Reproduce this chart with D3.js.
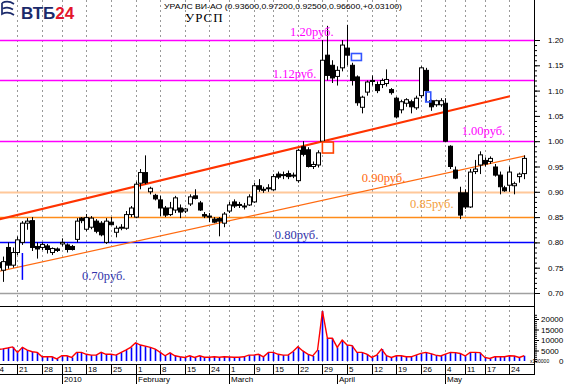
<!DOCTYPE html>
<html>
<head>
<meta charset="utf-8">
<script src="https://cdn.jsdelivr.net/npm/d3@7"></script>
<style>
  body { margin: 0; background: #fff; }
  svg { display: block; font-family: "Liberation Sans", Arial, sans-serif; }
</style>
</head>
<body>
<div id="container"></div>
<script>
// trading days are indexed from Dec 14 2009 (index 0)
const firstIdx = 1;
const opens  = [.760,.745,.790,.755,.780,.800,.838,.843,.792,.790,.793,.780,.787,.797,.795,.792,.806,.848,.826,.830,.842,.838,.800,.840,.820,.830,.828,.855,.850,.917,.938,.900,.893,.884,.868,.855,.864,.868,.862,.876,.892,.878,.855,.852,.846,.847,.838,.862,.880,.875,.870,.874,.880,.912,.905,.906,.904,.935,.932,.936,.932,.922,.989,.983,.950,.953,1.000,1.170,1.150,1.128,1.145,1.184,1.150,1.127,1.067,1.097,1.118,1.112,1.112,1.114,1.102,1.085,1.062,1.075,1.078,1.066,1.090,1.140,1.080,1.072,1.072,1.075,.990,.943,.898,.898,.870,.940,.953,.962,.960,.949,.933,.908,.913,.912,.930,.936];
const highs  = [.780,.772,.800,.790,.812,.842,.848,.850,.800,.800,.797,.790,.790,.808,.798,.795,.848,.850,.856,.852,.846,.842,.848,.850,.833,.836,.862,.872,.920,.945,.972,.910,.896,.892,.872,.880,.892,.875,.868,.895,.905,.882,.860,.858,.850,.850,.860,.880,.885,.880,.878,.895,.918,.925,.910,.915,.935,.940,.940,.942,.938,.985,1.000,.988,.960,.982,1.200,1.228,1.160,1.148,1.200,1.230,1.155,1.130,1.090,1.120,1.130,1.118,1.124,1.142,1.105,1.088,1.082,1.085,1.082,1.090,1.148,1.145,1.082,1.082,1.085,1.085,.992,.950,.910,.905,.945,.963,.980,.968,.970,.955,.940,.912,.950,.920,.938,.972];
const lows   = [.740,.722,.748,.750,.775,.795,.825,.783,.768,.785,.778,.775,.781,.792,.780,.784,.800,.838,.822,.826,.818,.812,.797,.834,.810,.824,.825,.850,.848,.905,.915,.895,.883,.852,.850,.852,.858,.848,.858,.872,.885,.862,.848,.840,.838,.812,.830,.858,.868,.868,.865,.872,.878,.900,.898,.900,.902,.925,.925,.925,.927,.918,.970,.948,.945,.948,.998,1.120,1.115,1.110,1.138,1.150,1.110,1.070,1.055,1.090,1.110,1.095,1.105,1.108,1.092,1.045,1.055,1.068,1.055,1.062,1.085,1.078,1.060,1.068,1.068,.998,.945,.925,.846,.866,.868,.935,.935,.950,.955,.930,.895,.900,.900,.895,.918,.925];
const closes = [.750,.762,.755,.780,.805,.838,.842,.790,.787,.796,.786,.788,.784,.800,.786,.786,.842,.843,.849,.848,.822,.815,.842,.835,.828,.830,.855,.868,.915,.938,.918,.907,.886,.868,.854,.868,.888,.860,.866,.890,.887,.864,.852,.850,.840,.842,.856,.874,.872,.873,.872,.890,.912,.905,.903,.908,.930,.929,.934,.930,.933,.982,.974,.950,.954,.977,1.160,1.130,1.125,1.140,1.190,1.170,1.120,1.076,1.087,1.117,1.120,1.100,1.120,1.122,1.096,1.048,1.078,1.082,1.068,1.085,1.145,1.100,1.068,1.080,1.080,1.000,.950,.927,.854,.870,.939,.945,.973,.955,.966,.933,.910,.902,.939,.916,.935,.966];
const volumes = [5500,5800,6200,6700,4100,6500,5200,4400,4100,2000,2000,2000,1000,2500,2500,1700,4100,4100,3200,2800,2800,4100,3200,3200,2800,4000,5200,6500,8700,7600,7100,6500,5700,4100,2500,3900,2500,2000,1700,2500,1700,2500,1800,1800,2000,1800,2000,1900,1800,1800,2000,2800,2800,3200,2000,4100,4100,3200,2800,2800,4500,6800,4800,3300,2400,5200,23800,10800,10800,6500,10000,7600,7300,4100,4100,3300,1700,2800,5700,2500,1700,2500,2500,2000,2000,2800,3600,4100,3500,2800,2400,3300,4100,4000,3600,2400,4100,4100,4000,1700,1200,2000,2000,2000,2500,2400,1700,2500];

// axis labels
const weekIdx = [0,5,10,14,19,24,29,34,39,44,48,53,57,62,67,72,77,82,87,92,96,100,105,110];
const weekLabels = ['14','21','28','11','18','25','1','8','15','24','1','9','15','22','29','5','12','19','26','4','11','17','24',''];
const monthIdx = [14,29,48,70,92];
const monthLabels = ['2010','February','March','April','May'];
const priceTicks = [1.20,1.15,1.10,1.05,1.00,0.95,0.90,0.85,0.80,0.75,0.70];
const volTicks = [20000,15000,10000,5000];

// drawn objects (index, price)
const levels = [1.20,1.12,1.00,0.90,0.85,0.80,0.70];
const levelColors = ['#ff00ff','#ff00ff','#ff00ff','#ffc89a','#ff8c1a','#0000ff','#a0a0a0'];
const levelTexts = ['1.20руб.','1.12руб.','1.00руб.',null,'0.85руб.','0.80руб.','0.70руб.'];
const levelTextPos = [[60.4,1.208],[56.9,1.125],[95.3,1.012],null,[84.8,0.868],[57.3,0.8065],[18.1,0.7255]];
const levelTextColors = ['#ff00ff','#ff00ff','#ff00ff',null,'#f4a040','#3333aa','#3333aa'];
const upperTrend = [[0,0.8426],[105.1,1.089]];
const lowerTrend = [[0,0.740],[108.2,0.971]];
const lowerTrendLabel = [75.0,0.9194,'0.90руб.'];
const boxes = [[68.1,0.9875,11,11,'#ff4400'],[73.9,1.1664,10,7,'#3355ff'],[88.5,1.0874,5,10,'#3355ff']];
const markLine = [6,0.779,0.726];

const w = 568, h = 384;
const right = 534, priceBottom = 306, volBottom = 364;

const svg = d3.select('#container').append('svg').attr('width', w).attr('height', h);

const x = d3.scaleLinear().domain([0,110]).range([-7.1, right]);
const y = d3.scaleLinear().domain([0.70,1.20]).range([293,40]);
const yv = d3.scaleLinear().domain([0,20000]).range([361,319]);

svg.append('clipPath').attr('id','pclip').append('rect')
  .attr('x',0).attr('y',0).attr('width',right).attr('height',priceBottom);
svg.append('clipPath').attr('id','vclip').append('rect')
  .attr('x',0).attr('y',priceBottom).attr('width',right).attr('height',volBottom-priceBottom);

// week grid
svg.append('g').selectAll('line').data(weekIdx).join('line')
  .attr('x1', d => Math.round(x(d)) + 0.5).attr('x2', d => Math.round(x(d)) + 0.5)
  .attr('y1', 0).attr('y2', volBottom)
  .attr('stroke', '#999').attr('stroke-dasharray', '2,3');

// header
const logo = svg.append('g');
logo.append('path').attr('d','M2,3 Q8,0 14,4 M2,3 L2,14 Q8,11 14,15 M3,8.5 Q8,6.5 13,9.5')
  .attr('fill','none').attr('stroke','#1b2a6b').attr('stroke-width',1.7);
logo.append('text').attr('x',21).attr('y',19).attr('font-size',17).attr('font-weight','bold')
  .attr('fill','#1b2a6b').text('ВТБ').append('tspan').attr('fill','#e3162b').text('24');
svg.append('text').attr('x',164).attr('y',9).attr('font-size',8).attr('textLength',238)
  .attr('lengthAdjust','spacingAndGlyphs')
  .text('УРАЛС ВИ-АО (0.93600,0.97200,0.92500,0.96600,+0.03100)');
svg.append('text').attr('x',185).attr('y',22).attr('font-size',13)
  .attr('font-family','"Liberation Serif", serif').attr('letter-spacing',1).text('УРСП');

// price panel
const pg = svg.append('g').attr('clip-path','url(#pclip)');
pg.selectAll('line.lvl').data(levels).join('line').attr('class','lvl')
  .attr('x1',0).attr('x2',right)
  .attr('y1', d => Math.round(y(d)) + 0.5).attr('y2', d => Math.round(y(d)) + 0.5)
  .attr('stroke', (d,i) => levelColors[i]).attr('stroke-width', (d,i) => i === 3 ? 2 : 1.5);

const line = d3.line().x(d => x(d[0])).y(d => y(d[1]));
pg.append('path').attr('d', line(upperTrend)).attr('stroke','#ff3300').attr('stroke-width',2).attr('fill','none');
pg.append('path').attr('d', line(lowerTrend)).attr('stroke','#ff6a10').attr('stroke-width',1.2).attr('fill','none');

pg.append('line').attr('x1', x(markLine[0])).attr('x2', x(markLine[0]))
  .attr('y1', y(markLine[1])).attr('y2', y(markLine[2])).attr('stroke','#0000ff').attr('stroke-width',1.5);

// candles
const candles = opens.map((o,i) => ({i: i + firstIdx, o, h: highs[i], l: lows[i], c: closes[i]}));
const cg = pg.append('g').selectAll('g').data(candles).join('g');
cg.append('line')
  .attr('x1', d => Math.round(x(d.i)) + 0.5).attr('x2', d => Math.round(x(d.i)) + 0.5)
  .attr('y1', d => y(d.h)).attr('y2', d => y(d.l)).attr('stroke','#000');
cg.append('rect')
  .attr('x', d => Math.round(x(d.i)) - 1.5).attr('width', 4)
  .attr('y', d => y(Math.max(d.o,d.c)))
  .attr('height', d => Math.max(1, Math.abs(y(d.o) - y(d.c))))
  .attr('fill', d => d.c >= d.o ? '#fff' : '#000').attr('stroke','#000').attr('stroke-width',1);

pg.selectAll('rect.box').data(boxes).join('rect').attr('class','box')
  .attr('x', d => x(d[0]) - d[2]/2).attr('y', d => y(d[1]) - d[3]/2)
  .attr('width', d => d[2]).attr('height', d => d[3])
  .attr('fill','none').attr('stroke', d => d[4]).attr('stroke-width',1.6);

// level captions
const serif = '"Liberation Serif", "Times New Roman", serif';
levels.forEach((v,i) => {
  if (!levelTexts[i]) return;
  pg.append('text').attr('x', x(levelTextPos[i][0])).attr('y', y(levelTextPos[i][1]))
    .attr('font-family', serif).attr('font-size',12.5).attr('fill', levelTextColors[i]).text(levelTexts[i]);
});
pg.append('text').attr('x', x(lowerTrendLabel[0])).attr('y', y(lowerTrendLabel[1]))
  .attr('font-family', serif).attr('font-size',12.5).attr('fill','#ff6a10').text(lowerTrendLabel[2]);

// volume panel
const vg = svg.append('g').attr('clip-path','url(#vclip)');
const vols = volumes.map((v,i) => ({i: i + firstIdx, v}));
vg.selectAll('line').data(vols).join('line')
  .attr('x1', d => Math.round(x(d.i)) + 0.5).attr('x2', d => Math.round(x(d.i)) + 0.5)
  .attr('y1', yv(0)).attr('y2', d => yv(d.v)).attr('stroke','#0000ff').attr('stroke-width',1.6);
vg.append('path').attr('d', d3.line().x(d => x(d.i)).y(d => yv(d.v))(vols))
  .attr('fill','none').attr('stroke','#ff0000').attr('stroke-width',1.4);

// frames
[priceBottom, volBottom].forEach(v => svg.append('line').attr('x1',0).attr('x2',right + 1)
  .attr('y1', v + 0.5).attr('y2', v + 0.5).attr('stroke','#000'));
svg.append('line').attr('x1', right + 0.5).attr('x2', right + 0.5).attr('y1',0).attr('y2',volBottom)
  .attr('stroke','#000');

// right price axis
const pAxis = d3.axisRight(y).tickValues(d3.range(70,121).map(d => d/100)).tickSize(3).tickFormat('');
svg.append('g').attr('transform',`translate(${right},0)`).call(pAxis)
  .call(g => g.select('.domain').remove())
  .call(g => g.selectAll('line').attr('stroke','#000'));
svg.append('g').attr('transform',`translate(${right},0)`)
  .call(d3.axisRight(y).tickValues(priceTicks).tickSize(6).tickFormat(d3.format('.2f')))
  .call(g => g.select('.domain').remove())
  .call(g => g.selectAll('text').attr('x',14).attr('font-size',8).attr('font-family','"Liberation Sans", Arial'));

// volume axis
svg.append('g').attr('transform',`translate(${right},0)`)
  .call(d3.axisRight(yv).tickValues(d3.range(0,22001,1000)).tickSize(3).tickFormat(''))
  .call(g => g.select('.domain').remove());
svg.append('g').attr('transform',`translate(${right},0)`)
  .call(d3.axisRight(yv).tickValues(volTicks).tickSize(5).tickFormat(d3.format('d')))
  .call(g => g.select('.domain').remove())
  .call(g => g.selectAll('text').attr('x',7).attr('font-size',8).attr('font-family','"Liberation Sans", Arial'));
svg.append('text').attr('x', right - 4).attr('y', yv(0) + 2).attr('font-size',5).text('x100000');
svg.append('text').attr('x', 559).attr('y', yv(0) + 3).attr('font-size',8).text('0');

// date axis
const dg = svg.append('g');
dg.append('line').attr('x1',0).attr('x2',right + 1).attr('y1',374.5).attr('y2',374.5).attr('stroke','#000');
dg.selectAll('line.wk').data(weekIdx).join('line').attr('class','wk')
  .attr('x1', d => Math.round(x(d)) + 0.5).attr('x2', d => Math.round(x(d)) + 0.5)
  .attr('y1', volBottom).attr('y2', 374).attr('stroke','#000');
dg.selectAll('text.wk').data(weekIdx).join('text').attr('class','wk')
  .attr('x', d => Math.round(x(d)) + 2).attr('y', 372).attr('font-size',8)
  .text((d,i) => weekLabels[i]);
dg.selectAll('line.mo').data(monthIdx).join('line').attr('class','mo')
  .attr('x1', d => Math.round(x(d)) + 0.5).attr('x2', d => Math.round(x(d)) + 0.5)
  .attr('y1', 374).attr('y2', h).attr('stroke','#000');
dg.selectAll('text.mo').data(monthIdx).join('text').attr('class','mo')
  .attr('x', d => Math.round(x(d)) + 2).attr('y', 382).attr('font-size',8)
  .text((d,i) => monthLabels[i]);
</script>
</body>
</html>
